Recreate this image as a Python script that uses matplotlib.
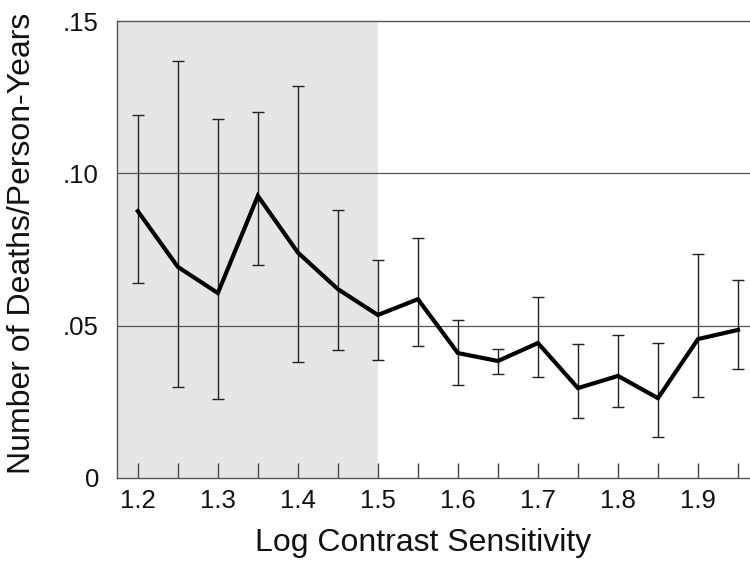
import numpy as np
import matplotlib
matplotlib.use("Agg")
import matplotlib.pyplot as plt

plt.rcParams["font.family"] = ["Liberation Sans", "DejaVu Sans"]

# Log contrast sensitivity bins and death rates with 95% CI
cs     = [1.20, 1.25, 1.30, 1.35, 1.40, 1.45, 1.50, 1.55, 1.60,
          1.65, 1.70, 1.75, 1.80, 1.85, 1.90, 1.95]
rate   = [0.0876, 0.0693, 0.0607, 0.0926, 0.0740, 0.0620, 0.0535, 0.0587, 0.0410,
          0.0384, 0.0443, 0.0295, 0.0335, 0.0262, 0.0456, 0.0486]
lower  = [0.0640, 0.0300, 0.0260, 0.0700, 0.0380, 0.0420, 0.0387, 0.0433, 0.0305,
          0.0340, 0.0330, 0.0197, 0.0233, 0.0134, 0.0266, 0.0358]
upper  = [0.1190, 0.1370, 0.1180, 0.1200, 0.1287, 0.0880, 0.0716, 0.0787, 0.0520,
          0.0425, 0.0595, 0.0440, 0.0470, 0.0443, 0.0735, 0.0650]

yticks  = [0, 0.05, 0.10, 0.15]
ylabels = ["0", ".05", ".10", ".15"]
xticks  = [1.2, 1.3, 1.4, 1.5, 1.6, 1.7, 1.8, 1.9]
shade_end = 1.5

rate = np.array(rate)
yerr = [rate - np.array(lower), np.array(upper) - rate]

fig = plt.figure(figsize=(7.5, 5.61), dpi=100)
ax = fig.add_axes([0.156, 0.148, 0.844, 0.8145])

xmin, xmax = 1.174, 1.965
ax.set_xlim(xmin, xmax)
ax.set_ylim(0, 0.15)

ax.axvspan(xmin, shade_end, color="#e6e6e6", zorder=0, lw=0)
for g in [0.05, 0.10]:
    ax.axhline(g, color="#555555", lw=0.9, zorder=1)

ax.errorbar(cs, rate, yerr=yerr, fmt="none", ecolor="#222222",
            elinewidth=1.0, capsize=4.5, capthick=1.0, zorder=2)
ax.plot(cs, rate, color="black", lw=3.0, solid_joinstyle="miter", zorder=3)

ax.set_yticks(yticks)
ax.set_yticklabels(ylabels)
ax.set_xticks(xticks)
ax.set_xticks(cs, minor=True)
ax.tick_params(axis="y", length=0, pad=13, labelsize=18.5, colors="#111111")
ax.tick_params(axis="x", which="both", direction="in", length=11, width=1.0,
               color="#444444", pad=8, labelsize=18.5, labelcolor="#111111")

for s in ["left", "bottom", "top"]:
    ax.spines[s].set_color("#555555")
    ax.spines[s].set_linewidth(1.0)
ax.spines["right"].set_visible(False)

ax.set_xlabel("Log Contrast Sensitivity", fontsize=23, color="#111111")
ax.xaxis.set_label_coords(0.483, -0.11, transform=ax.transAxes)
ax.set_ylabel("Number of Deaths/Person-Years", fontsize=23, color="#111111")
ax.yaxis.set_label_coords(-0.126, 0.514, transform=ax.transAxes)

fig.savefig("out.png", dpi=100)
